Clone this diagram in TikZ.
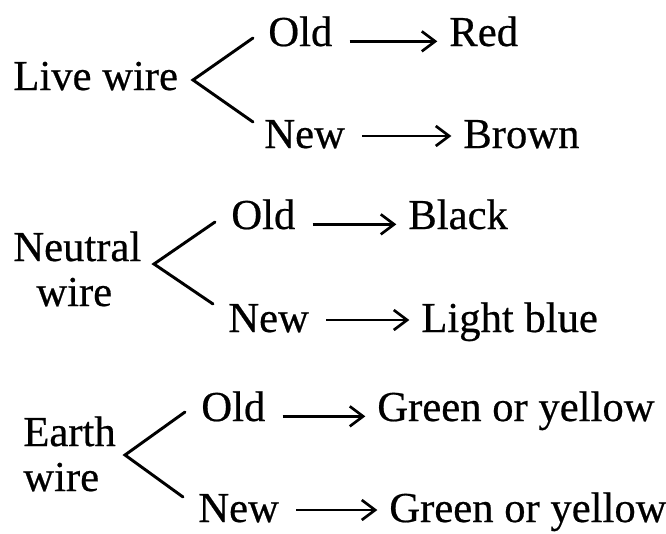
\documentclass[tikz,border=0pt]{standalone}
\usepackage{fontspec}
\setmainfont[FakeBold=0.5]{Liberation Serif}
\usetikzlibrary{arrows.meta}

\tikzset{every picture/.style={line width=2pt}}
\tikzset{
  lbl/.style={anchor=base west,inner sep=0pt,text height=22pt,text depth=7pt,font=\fontsize{32}{34}\selectfont},
  colarrow/.style={-{Straight Barb[length=10pt,width=15pt,line width=2pt]},shorten <=12pt,shorten >=8pt},
  fork/.style={line width=2.2pt,line cap=round,line join=miter}
}

\begin{document}
\begin{tikzpicture}[x=0.75pt,y=0.75pt,yscale=-1,xscale=1]
\useasboundingbox (0,0) rectangle (666,533);

% Live wire
\node[lbl] (live) at (12,90) {Live wire};
\node[lbl] (old1) at (267,46) {Old};
\node[lbl] (red) at (448,46) {Red};
\node[lbl] (new1) at (263,148) {New};
\node[lbl] (brown) at (462,148) {Brown};
\coordinate (v1) at (193,80);
\coordinate (u1) at (253,38);
\coordinate (l1) at (253,122);
\draw[fork] (u1) -- (v1) -- (l1);
\draw[colarrow] ([yshift=4pt]old1.east) -- ([yshift=4pt]red.west);
\draw[colarrow] ([yshift=-1.5pt]new1.east) -- ([yshift=-1.5pt]brown.west);

% Neutral wire
\node[lbl] (neutral) at (12,261) {Neutral};
\node[lbl] (neutralw) at (35,306) {wire};
\node[lbl] (old2) at (230,229) {Old};
\node[lbl] (black) at (407,229) {Black};
\node[lbl] (new2) at (227,332) {New};
\node[lbl] (lblue) at (420,332) {Light blue};
\coordinate (v2) at (154,264);
\coordinate (u2) at (215,222);
\coordinate (l2) at (213,304);
\draw[fork] (u2) -- (v2) -- (l2);
\draw[colarrow] ([yshift=4pt]old2.east) -- ([yshift=4pt]black.west);
\draw[colarrow] ([yshift=-1.5pt]new2.east) -- ([yshift=-1.5pt]lblue.west);

% Earth wire
\node[lbl] (earth) at (22,446) {Earth};
\node[lbl] (earthw) at (22,491) {wire};
\node[lbl] (old3) at (200,421) {Old};
\node[lbl] (green3) at (376,421) {Green or yellow};
\node[lbl] (new3) at (197,522) {New};
\node[lbl] (green3b) at (388,522) {Green or yellow};
\coordinate (v3) at (125,455);
\coordinate (u3) at (185,412);
\coordinate (l3) at (183,497);
\draw[fork] (u3) -- (v3) -- (l3);
\draw[colarrow] ([yshift=4pt]old3.east) -- ([yshift=4pt]green3.west);
\draw[colarrow] ([yshift=-1.5pt]new3.east) -- ([yshift=-1.5pt]green3b.west);

\end{tikzpicture}
\end{document}
